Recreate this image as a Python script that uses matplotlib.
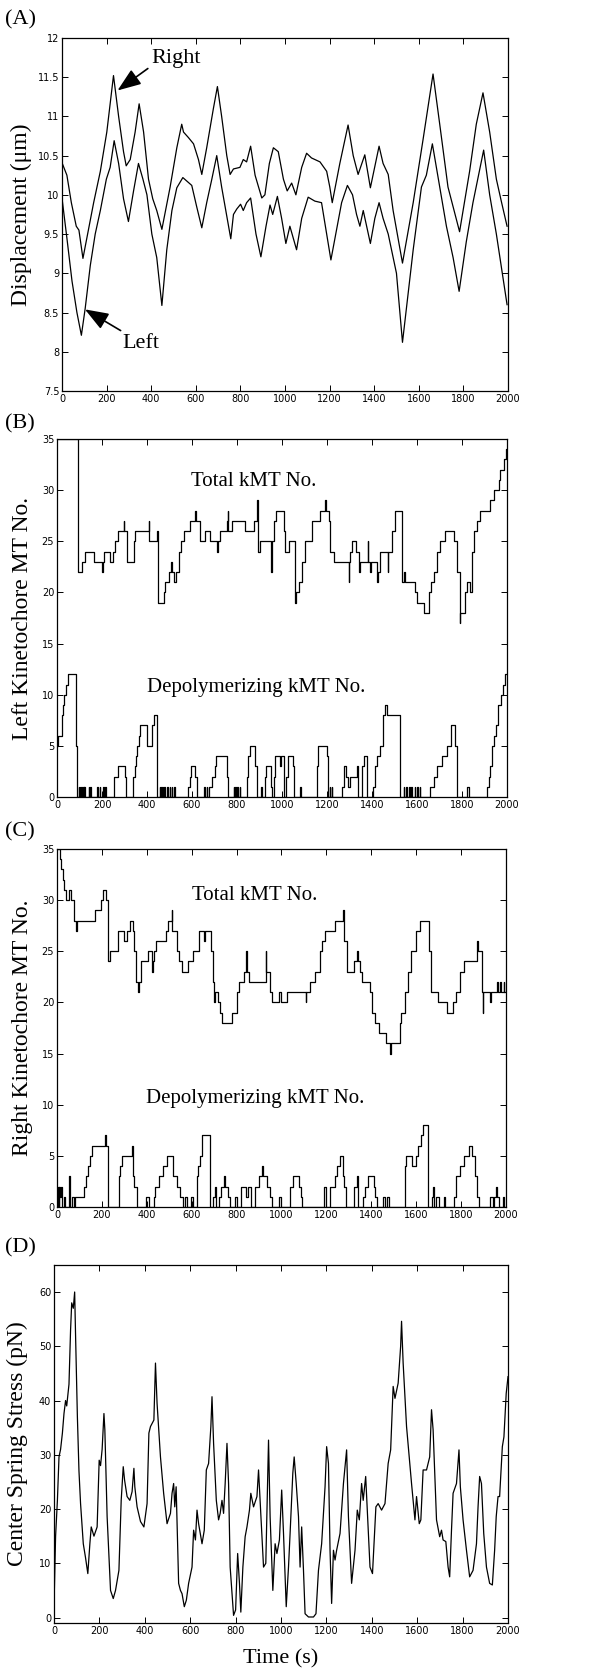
import numpy as np
import matplotlib
matplotlib.use("Agg")
import matplotlib.pyplot as plt
from matplotlib.ticker import FuncFormatter

# ---- (A) displacement of the two kinetochores (s, um)
right_t = [0, 22, 42, 64, 76, 94, 142, 172, 201, 231, 254, 276, 288, 306, 328, 346, 366, 388, 407, 425, 448,
           485, 515, 537, 545, 567, 590, 612, 627, 649, 679, 697, 716, 739, 754, 769, 798, 813, 828, 846,
           866, 896, 910, 930, 948, 970, 993, 1010, 1030, 1049, 1075, 1097, 1119, 1157, 1187, 1201, 1212,
           1246, 1283, 1306, 1328, 1358, 1383, 1422, 1440, 1463, 1485, 1527, 1575, 1619, 1664, 1694, 1731,
           1783, 1828, 1858, 1888, 1918, 1948, 1970, 1996]
right_y = [10.41, 10.25, 9.9, 9.6, 9.55, 9.19, 9.9, 10.3, 10.8, 11.52, 11.0, 10.55, 10.37, 10.45, 10.8, 11.16,
           10.8, 10.2, 9.95, 9.8, 9.56, 10.1, 10.6, 10.9, 10.8, 10.73, 10.65, 10.45, 10.26, 10.6, 11.1, 11.38,
           11.0, 10.5, 10.26, 10.33, 10.35, 10.45, 10.42, 10.62, 10.25, 9.96, 10.0, 10.4, 10.6, 10.55, 10.2,
           10.05, 10.15, 10.0, 10.35, 10.53, 10.47, 10.42, 10.3, 10.1, 9.9, 10.4, 10.89, 10.5, 10.26, 10.51,
           10.09, 10.62, 10.4, 10.26, 9.8, 9.13, 9.9, 10.7, 11.54, 10.9, 10.1, 9.53, 10.3, 10.9, 11.3, 10.8,
           10.2, 9.92, 9.6]
left_t = [0, 22, 45, 67, 87, 104, 127, 149, 172, 199, 216, 234, 254, 276, 298, 321, 343, 363, 381, 403, 425,
          448, 470, 493, 515, 542, 582, 604, 627, 649, 672, 694, 716, 757, 769, 784, 801, 813, 828, 846, 870,
          892, 915, 933, 945, 966, 985, 1004, 1022, 1052, 1075, 1104, 1134, 1164, 1187, 1206, 1231, 1254,
          1280, 1303, 1321, 1336, 1351, 1383, 1403, 1422, 1440, 1463, 1500, 1527, 1575, 1612, 1634, 1661,
          1694, 1724, 1754, 1781, 1813, 1843, 1891, 1918, 1948, 1996]
left_y = [9.96, 9.45, 8.9, 8.5, 8.21, 8.55, 9.1, 9.5, 9.8, 10.2, 10.35, 10.69, 10.4, 9.95, 9.66, 10.05, 10.4,
          10.2, 10.0, 9.5, 9.2, 8.59, 9.3, 9.8, 10.09, 10.22, 10.12, 9.85, 9.58, 9.9, 10.2, 10.5, 10.1, 9.44,
          9.75, 9.82, 9.88, 9.8, 9.9, 9.96, 9.5, 9.21, 9.6, 9.87, 9.75, 9.98, 9.7, 9.38, 9.6, 9.3, 9.7, 9.97,
          9.92, 9.9, 9.5, 9.17, 9.55, 9.9, 10.12, 10.0, 9.75, 9.6, 9.8, 9.38, 9.7, 9.9, 9.7, 9.5, 9.0, 8.12,
          9.3, 10.1, 10.25, 10.65, 10.1, 9.6, 9.2, 8.77, 9.4, 9.9, 10.57, 10.0, 9.5, 8.6]

# ---- (B) left kinetochore MT numbers (step changes: time, new value)
bl_tot_t = [0, 92, 111, 126, 163, 200, 204, 207, 237, 249, 259, 270, 296, 299, 311, 341, 348, 407, 410, 444,
            448, 474, 481, 496, 507, 510, 519, 530, 541, 551, 563, 593, 615, 618, 634, 659, 679, 711, 714, 726,
            756, 759, 762, 778, 837, 877, 889, 892, 904, 951, 954, 963, 975, 1007, 1015, 1030, 1059, 1062,
            1074, 1089, 1104, 1133, 1167, 1193, 1196, 1207, 1215, 1230, 1296, 1299, 1304, 1311, 1330, 1341,
            1348, 1381, 1384, 1390, 1396, 1422, 1425, 1437, 1470, 1473, 1489, 1504, 1533, 1544, 1548, 1593,
            1600, 1630, 1652, 1662, 1674, 1689, 1704, 1726, 1763, 1778, 1790, 1793, 1815, 1822, 1837, 1844,
            1852, 1867, 1881, 1926, 1941, 1963, 1970, 1988, 1997]
bl_tot_n = [35, 22, 23, 24, 23, 22, 23, 24, 23, 24, 25, 26, 27, 26, 23, 25, 26, 27, 25, 26,
            19, 20, 21, 22, 23, 22, 21, 22, 24, 25, 26, 27, 28, 27, 25, 26, 25, 24, 25, 26,
            27, 28, 26, 27, 26, 27, 29, 24, 25, 22, 25, 27, 28, 26, 24, 25, 19, 20,
            21, 23, 25, 27, 28, 29, 28, 27, 24, 23, 21, 23, 24, 25, 24, 22,
            23, 25, 23, 22, 23, 21, 22, 24, 22, 24, 26, 28, 21, 22, 21, 20,
            19, 18, 20, 21, 22, 24, 25, 26, 25, 22, 17, 18, 20, 21, 20, 24,
            26, 27, 28, 29, 30, 31, 32, 33, 34]
bl_dep_t = [0, 5, 20, 25, 33, 40, 48, 86, 90, 96, 99, 101, 104, 107, 110, 115, 118, 120, 123, 140, 143, 148,
            151, 178, 181, 190, 193, 205, 208, 215, 218, 252, 270, 300, 305, 338, 345, 352, 357, 363, 370,
            400, 420, 432, 444, 456, 459, 462, 465, 470, 473, 476, 479, 490, 493, 500, 503, 510, 513, 520,
            523, 582, 590, 596, 612, 620, 655, 658, 665, 668, 676, 690, 700, 708, 756, 760, 785, 788, 793,
            796, 800, 803, 812, 815, 844, 850, 856, 882, 890, 905, 912, 925, 930, 950, 955, 965, 970, 990,
            995, 1007, 1018, 1025, 1050, 1053, 1081, 1085, 1156, 1162, 1200, 1205, 1212, 1215, 1220, 1223,
            1267, 1277, 1286, 1292, 1301, 1333, 1338, 1356, 1365, 1378, 1404, 1415, 1422, 1437, 1448, 1458,
            1467, 1526, 1540, 1543, 1553, 1556, 1565, 1568, 1575, 1578, 1590, 1593, 1600, 1603, 1612, 1615,
            1659, 1674, 1689, 1711, 1733, 1753, 1770, 1776, 1822, 1832, 1911, 1918, 1926, 1933, 1944, 1952,
            1959, 1975, 1982, 1993]
bl_dep_n = [5, 6, 8, 9, 10, 11, 12, 5, 0, 1, 0, 1, 0, 1, 0, 1, 0, 1, 0, 1, 0, 1,
            0, 1, 0, 1, 0, 1, 0, 1, 0, 2, 3, 2, 0, 2, 3, 4, 5, 6, 7,
            5, 7, 8, 0, 1, 0, 1, 0, 1, 0, 1, 0, 1, 0, 1, 0, 1, 0, 1,
            0, 1, 2, 3, 2, 0, 1, 0, 1, 0, 1, 2, 3, 4, 2, 0, 1, 0, 1,
            0, 1, 0, 1, 0, 2, 4, 5, 3, 0, 1, 0, 2, 3, 1, 0, 2, 4, 3,
            4, 0, 2, 4, 3, 0, 1, 0, 3, 5, 4, 0, 1, 0, 1, 0,
            1, 3, 2, 1, 2, 3, 0, 3, 4, 0, 1, 3, 4, 5, 8, 9,
            8, 0, 1, 0, 1, 0, 1, 0, 1, 0, 1, 0, 1, 0, 1, 0,
            1, 2, 3, 4, 5, 7, 5, 0, 1, 0, 1, 2, 3, 5, 6, 7,
            9, 10, 11, 12]

# ---- (C) right kinetochore MT numbers
br_tot_t = [0, 15, 19, 25, 33, 40, 52, 62, 74, 77,
            86, 89, 170, 196, 207, 219, 227, 234, 270, 299,
            311, 323, 338, 344, 353, 360, 364, 373, 407, 422,
            427, 433, 441, 486, 496, 511, 514, 533, 545, 556,
            585, 607, 634, 655, 660, 684, 693, 699, 704, 719,
            726, 733, 778, 803, 812, 833, 840, 847, 856, 930,
            933, 948, 956, 990, 1000, 1025, 1107, 1111, 1129, 1148,
            1170, 1182, 1193, 1237, 1274, 1277, 1292, 1321, 1338, 1341,
            1348, 1360, 1393, 1404, 1415, 1434, 1467, 1485, 1488, 1526,
            1533, 1548, 1563, 1578, 1600, 1618, 1659, 1667, 1696, 1736,
            1763, 1778, 1793, 1812, 1871, 1875, 1893, 1896, 1899, 1930,
            1933, 1960, 1963, 1975, 1978, 1990, 1993]
br_tot_n = [35, 34, 33, 32, 31, 30, 31, 30, 29, 28,
            27, 28, 29, 30, 31, 30, 24, 25, 27, 26,
            27, 28, 27, 25, 22, 21, 22, 24, 25, 23,
            24, 25, 26, 27, 28, 29, 27, 25, 24, 23,
            24, 25, 27, 26, 27, 25, 22, 20, 21, 20,
            19, 18, 19, 21, 22, 23, 25, 23, 22, 25,
            23, 21, 20, 21, 20, 21, 20, 21, 22, 23,
            25, 26, 27, 28, 29, 26, 23, 24, 25, 24,
            23, 22, 21, 19, 18, 17, 16, 15, 16, 18,
            19, 21, 23, 25, 27, 28, 25, 21, 20, 19,
            20, 21, 23, 24, 26, 25, 21, 19, 21, 20,
            21, 22, 21, 22, 21, 22, 21]
br_dep_t = [0, 4, 8, 11, 15, 19, 24, 30, 36, 55, 60, 65, 75, 82, 92, 122, 130, 136, 145, 155, 215, 219, 225,
            274, 280, 290, 335, 338, 345, 355, 397, 412, 430, 437, 455, 470, 489, 516, 535, 548, 560, 570,
            580, 595, 607, 622, 630, 637, 648, 680, 696, 705, 710, 720, 730, 745, 750, 760, 770, 793, 800,
            818, 844, 852, 862, 880, 900, 912, 916, 936, 948, 958, 990, 1000, 1037, 1052, 1078, 1085, 1093,
            1189, 1197, 1215, 1237, 1248, 1259, 1273, 1280, 1287, 1321, 1338, 1341, 1363, 1370, 1385, 1410,
            1418, 1425, 1452, 1460, 1470, 1480, 1548, 1556, 1580, 1600, 1608, 1620, 1630, 1653, 1670, 1676,
            1680, 1690, 1700, 1725, 1730, 1770, 1778, 1793, 1812, 1834, 1848, 1860, 1870, 1882, 1930, 1940,
            1948, 1955, 1962, 1970, 1985, 1990]
br_dep_n = [0, 2, 0, 2, 1, 2, 0, 1, 0, 3, 0, 1, 0, 1, 1, 2, 3, 4, 5, 6, 7, 6, 0,
            3, 4, 5, 6, 3, 2, 0, 1, 0, 1, 2, 3, 4, 5, 3, 2, 1, 0, 1,
            0, 1, 0, 3, 4, 5, 7, 0, 1, 2, 0, 1, 2, 3, 2, 1, 0, 1, 0,
            2, 1, 2, 0, 2, 3, 4, 3, 2, 1, 0, 1, 0, 2, 3, 2, 1, 0,
            2, 0, 2, 3, 4, 5, 3, 2, 0, 2, 3, 0, 1, 2, 3, 2,
            1, 0, 1, 0, 1, 0, 4, 5, 4, 5, 6, 7, 8, 0, 1, 2,
            0, 1, 0, 1, 0, 1, 3, 4, 5, 6, 5, 3, 1, 0, 1, 0,
            1, 2, 1, 0, 1, 0]

# ---- (D) center spring stress (pN)
spring_t = [0, 7, 15, 22, 29, 37, 44, 51, 56, 66, 73, 78, 85, 91, 95, 103, 110, 117, 129, 139, 149, 158, 164,
            176, 190, 199, 205, 212, 220, 224, 234, 249, 261, 271, 286, 296, 305, 311, 322, 334, 344, 352,
            356, 366, 381, 396, 410, 418, 425, 440, 447, 454, 469, 483, 498, 513, 520, 527, 532, 538, 545,
            549, 557, 564, 574, 583, 593, 608, 615, 623, 630, 637, 652, 662, 671, 681, 691, 696, 703, 715,
            725, 732, 740, 747, 754, 762, 769, 776, 791, 800, 809, 817, 823, 832, 842, 850, 861, 867, 879,
            894, 901, 908, 923, 933, 945, 952, 964, 974, 982, 993, 1003, 1011, 1023, 1033, 1040, 1052, 1058,
            1067, 1077, 1084, 1091, 1099, 1106, 1121, 1143, 1154, 1165, 1179, 1194, 1201, 1209, 1216, 1223,
            1231, 1238, 1245, 1260, 1275, 1289, 1297, 1311, 1326, 1336, 1345, 1355, 1362, 1373, 1380, 1392,
            1403, 1418, 1428, 1443, 1458, 1472, 1483, 1494, 1502, 1516, 1527, 1531, 1538, 1553, 1575, 1590,
            1597, 1609, 1616, 1626, 1641, 1655, 1663, 1670, 1685, 1699, 1707, 1714, 1726, 1736, 1743, 1751,
            1758, 1773, 1784, 1790, 1802, 1817, 1831, 1846, 1861, 1868, 1875, 1883, 1893, 1905, 1919, 1931,
            1941, 1948, 1956, 1963, 1975, 1982, 1992, 2000]
spring_f = [2, 15, 21.6, 29.6, 31, 34, 37.6, 40, 39, 43, 53, 58, 57, 60, 52, 37, 27, 21, 13.6, 11, 8.1, 13.6,
            16.7, 15, 16.7, 29, 28, 31, 37.6, 34.6, 18.6, 5, 3.5, 5, 8.7, 21.6, 27.8, 25.3, 22.3, 21.6, 23.2,
            27.5, 24.1, 20.4, 17.7, 16.7, 21, 34, 35.2, 36.4, 46.9, 39.5, 29.6, 22.9, 17.3, 19.2, 22.9, 24.7,
            20.4, 24.1, 12.4, 6.3, 5, 4.4, 2, 3.2, 6.3, 9.3, 16.1, 14.3, 19.8, 17.3, 13.6, 16.1, 27.2, 28.4,
            35.2, 40.7, 32.1, 21.6, 18, 19.2, 21.6, 19.2, 24.7, 32.1, 24.7, 9.3, 0.4, 1.4, 11.8, 6.3, 1, 9.3,
            14.9, 16.7, 19.8, 22.9, 20.4, 22.3, 27.2, 21.6, 9.3, 10, 32.7, 18.6, 5, 13.6, 11.8, 14.3, 23.5,
            15.5, 2, 9.3, 15.5, 26.6, 29.6, 24.7, 18.6, 9.3, 16.7, 8.7, 0.7, 0.1, 0.1, 0.7, 8.7, 13.6, 24.1,
            31.5, 28.4, 12.4, 2.6, 12.4, 10.6, 12.4, 15.5, 24.7, 30.9, 18.6, 6.3, 12.4, 19.8, 18, 24.7, 21.6,
            26, 19.8, 9.3, 8.1, 20.4, 21, 19.8, 21, 28.4, 30.9, 42.6, 40.4, 43.2, 50, 54.6, 46.9, 35.2, 24.7,
            18, 22.3, 17.3, 18, 27.2, 27.2, 29.6, 38.3, 34.6, 18, 14.9, 16.1, 14.3, 14, 9.3, 7.5, 16.1, 22.9,
            24.7, 30.9, 24.1, 18, 12.4, 7.5, 8.7, 13.6, 20.4, 26, 24.7, 15.5, 9.3, 6.3, 6, 12.4, 18.6, 22.3,
            22.3, 31.5, 33.3, 41.3, 44.4]

serif = "Liberation Serif"
tick_font = {"family": "DejaVu Sans", "size": 7}

fig = plt.figure(figsize=(6, 16.78), dpi=100)


def style_axes(ax):
    ax.tick_params(direction="in", top=True, right=True, length=4, width=0.7, pad=2)
    for lab in ax.get_xticklabels() + ax.get_yticklabels():
        lab.set_fontfamily(tick_font["family"])
        lab.set_fontsize(tick_font["size"])
    for sp in ax.spines.values():
        sp.set_linewidth(0.9)
    ax.set_xlim(0, 2000)
    ax.set_xticks(range(0, 2001, 200))


fmt = FuncFormatter(lambda v, p: "%g" % v)

# (A)
axA = fig.add_axes([0.1033, 0.767, 0.7433, 0.2104])
axA.plot(right_t, right_y, color="black", lw=0.9)
axA.plot(left_t, left_y, color="black", lw=0.9)
axA.set_ylim(7.5, 12)
axA.set_yticks(np.arange(7.5, 12.01, 0.5))
axA.yaxis.set_major_formatter(fmt)
style_axes(axA)
axA.set_ylabel("Displacement (\u03bcm)", family=serif, fontsize=17, labelpad=4)
arrow = dict(arrowstyle="-|>,head_length=0.8,head_width=0.3", color="black", lw=1.2,
             mutation_scale=18, shrinkA=0, shrinkB=0)
axA.annotate("", xy=(249, 11.33), xytext=(385, 11.61), arrowprops=arrow)
axA.text(400, 11.74, "Right", family=serif, fontsize=16, ha="left", va="center")
axA.annotate("", xy=(103, 8.54), xytext=(263, 8.27), arrowprops=arrow)
axA.text(272, 8.1, "Left", family=serif, fontsize=16, ha="left", va="center")

# (B)
axB = fig.add_axes([0.095, 0.525, 0.75, 0.2134])
axB.step(bl_tot_t + [2000], bl_tot_n + [bl_tot_n[-1]], where="post", color="black", lw=0.9)
axB.step(bl_dep_t + [2000], bl_dep_n + [bl_dep_n[-1]], where="post", color="black", lw=0.9)
axB.set_ylim(0, 35)
axB.set_yticks(range(0, 36, 5))
style_axes(axB)
axB.set_ylabel("Left Kinetochore MT No.", family=serif, fontsize=17, labelpad=6)
axB.text(876, 30.8, "Total kMT No.", family=serif, fontsize=15, ha="center", va="center")
axB.text(885, 10.7, "Depolymerizing kMT No.", family=serif, fontsize=15, ha="center", va="center")

# (C)
axC = fig.add_axes([0.095, 0.2807, 0.7483, 0.2134])
axC.step(br_tot_t + [2000], br_tot_n + [br_tot_n[-1]], where="post", color="black", lw=0.9)
axC.step(br_dep_t + [2000], br_dep_n + [br_dep_n[-1]], where="post", color="black", lw=0.9)
axC.set_ylim(0, 35)
axC.set_yticks(range(0, 36, 5))
style_axes(axC)
axC.set_ylabel("Right Kinetochore MT No.", family=serif, fontsize=17, labelpad=6)
axC.text(882, 30.4, "Total kMT No.", family=serif, fontsize=15, ha="center", va="center")
axC.text(885, 10.6, "Depolymerizing kMT No.", family=serif, fontsize=15, ha="center", va="center")

# (D)
axD = fig.add_axes([0.09, 0.0328, 0.7567, 0.2134])
axD.plot(spring_t, spring_f, color="black", lw=0.9)
axD.set_ylim(-1, 65)
axD.set_yticks(range(0, 61, 10))
style_axes(axD)
axD.set_ylabel("Center Spring Stress (pN)", family=serif, fontsize=17, labelpad=8)
axD.set_xlabel("Time (s)", family=serif, fontsize=16, labelpad=10)

for lab, yy in [("(A)", 20), ("(B)", 424), ("(C)", 832), ("(D)", 1248)]:
    fig.text(5 / 600, 1 - yy / 1678, lab, family=serif, fontsize=16, ha="left", va="center")

fig.savefig("out.png", dpi=100)
